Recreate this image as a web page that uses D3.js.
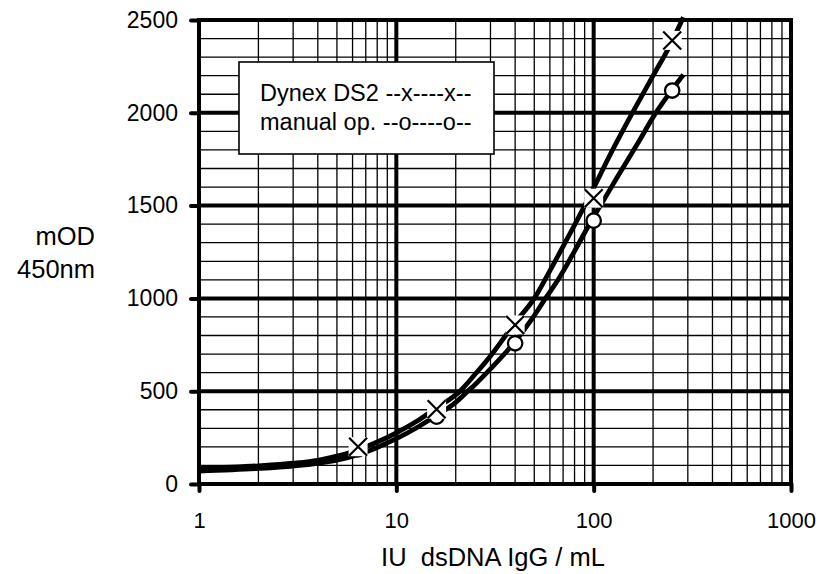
<!DOCTYPE html>
<html>
<head>
<meta charset="utf-8">
<script src="https://cdn.jsdelivr.net/npm/d3@7"></script>
<style>
  body { margin: 0; background: #fff; }
  svg text { font-family: "Liberation Sans", Arial, sans-serif; fill: #000; }
</style>
</head>
<body>
<div id="chart"></div>
<script>
// tick values
var xTicks = [1, 10, 100, 1000];
var yTicks = [0, 500, 1000, 1500, 2000, 2500];

// measured points
var dynexPts = [[6.4, 201], [16, 403], [40, 857], [100, 1540], [250, 2390]];
var manualPts = [[6.4, 187], [16, 363], [40, 758], [100, 1419], [250, 2120]];

// fitted curves
var dynexFit = [[1, 84], [2, 98], [3, 112], [4, 128], [5, 150], [6.5, 186], [8, 226], [10, 276],
    [13, 345], [16, 410], [21, 500], [25, 590], [30, 690], [40, 870], [50, 1000], [58, 1120],
    [70, 1280], [80, 1395], [90, 1500], [100, 1595], [120, 1765], [150, 1960], [200, 2200],
    [240, 2350], [285, 2515]];
var manualFit = [[1, 70], [2, 84], [3, 97], [4, 111], [5, 128], [6.5, 160], [8, 197], [10, 244],
    [13, 310], [16, 370], [20, 440], [23, 500], [25, 535], [30, 620], [40, 768], [48, 880],
    [57, 1000], [66, 1100], [80, 1255], [100, 1440], [110, 1513], [130, 1643], [165, 1825],
    [208, 2005], [250, 2125], [285, 2205]];

var legendLines = ["Dynex DS2 --x----x--", "manual op. --o----o--"];

var W = 819, H = 574;
var margin = { top: 20, right: 28, bottom: 90, left: 199 },
    width = W - margin.left - margin.right,
    height = H - margin.top - margin.bottom;

var svg = d3.select("#chart")
    .append("svg")
    .attr("width", W)
    .attr("height", H);

var g = svg.append("g")
    .attr("transform", "translate(" + margin.left + "," + margin.top + ")");

var x = d3.scaleLog()
    .domain([1, 1000])
    .range([0, width]);

var y = d3.scaleLinear()
    .domain([0, 2500])
    .range([height, 0]);

// minor grid
var minorX = [];
[1, 10, 100].forEach(function (d) {
    for (var k = 2; k <= 9; k++) minorX.push(d * k);
});
var minorY = d3.range(100, 2500, 100).filter(function (d) { return d % 500 !== 0; });

g.append("g").selectAll("line")
    .data(minorX)
    .enter()
    .append("line")
    .attr("x1", function (d) { return x(d); })
    .attr("x2", function (d) { return x(d); })
    .attr("y1", 0)
    .attr("y2", height)
    .attr("stroke", "#000")
    .attr("stroke-width", 1.3);

g.append("g").selectAll("line")
    .data(minorY)
    .enter()
    .append("line")
    .attr("x1", 0)
    .attr("x2", width)
    .attr("y1", function (d) { return y(d); })
    .attr("y2", function (d) { return y(d); })
    .attr("stroke", "#000")
    .attr("stroke-width", 1.3);

// major grid
g.append("g").selectAll("line")
    .data(xTicks)
    .enter()
    .append("line")
    .attr("x1", function (d) { return x(d); })
    .attr("x2", function (d) { return x(d); })
    .attr("y1", 0)
    .attr("y2", height)
    .attr("stroke", "#000")
    .attr("stroke-width", 4)
    .attr("stroke-linecap", "square");

g.append("g").selectAll("line")
    .data(yTicks)
    .enter()
    .append("line")
    .attr("x1", 0)
    .attr("x2", width)
    .attr("y1", function (d) { return y(d); })
    .attr("y2", function (d) { return y(d); })
    .attr("stroke", "#000")
    .attr("stroke-width", 4)
    .attr("stroke-linecap", "square");

// axes: thick stubs + labels
var yAxis = g.append("g")
    .call(d3.axisLeft(y).tickValues(yTicks).tickSize(8).tickPadding(13).tickFormat(d3.format("d")));
var xAxis = g.append("g")
    .attr("transform", "translate(0," + height + ")")
    .call(d3.axisBottom(x).tickValues(xTicks).tickSize(7).tickPadding(21).tickFormat(d3.format("d")));

[yAxis, xAxis].forEach(function (a) {
    a.select(".domain").remove();
    a.selectAll(".tick line")
        .attr("stroke", "#000")
        .attr("stroke-width", 4)
        .attr("stroke-linecap", "round");
    a.selectAll(".tick text")
        .style("font-family", "'Liberation Sans', Arial, sans-serif")
        .attr("fill", "#000");
});
yAxis.selectAll(".tick text").style("font-size", "23px");
xAxis.selectAll(".tick text").style("font-size", "22px");

// curves
var line = d3.line()
    .x(function (d) { return x(d[0]); })
    .y(function (d) { return y(d[1]); })
    .curve(d3.curveMonotoneX);

[dynexFit, manualFit].forEach(function (s) {
    g.append("path")
        .datum(s)
        .attr("d", line)
        .attr("fill", "none")
        .attr("stroke", "#000")
        .attr("stroke-width", 4.8)
        .attr("stroke-linejoin", "round");
});

// circles
g.append("g").selectAll("circle")
    .data(manualPts)
    .enter()
    .append("circle")
    .attr("cx", function (d) { return x(d[0]); })
    .attr("cy", function (d) { return y(d[1]); })
    .attr("r", 7.2)
    .attr("fill", "#fff")
    .attr("stroke", "#000")
    .attr("stroke-width", 2.3);

// crosses with white backing
var cross = g.append("g").selectAll("g")
    .data(dynexPts)
    .enter()
    .append("g")
    .attr("transform", function (d) {
        return "translate(" + x(d[0]) + "," + y(d[1]) + ")";
    });
cross.append("rect")
    .attr("x", -9.5).attr("y", -9.5)
    .attr("width", 19).attr("height", 19)
    .attr("fill", "#fff");
cross.append("path")
    .attr("d", "M-9,-9L9,9M-9,9L9,-9")
    .attr("stroke", "#000")
    .attr("stroke-width", 2.2)
    .attr("fill", "none");

// legend
var leg = svg.append("g");
leg.append("rect")
    .attr("x", 239).attr("y", 62)
    .attr("width", 255).attr("height", 92)
    .attr("fill", "#fff")
    .attr("stroke", "#000")
    .attr("stroke-width", 1.6);
leg.selectAll("text")
    .data(legendLines)
    .enter()
    .append("text")
    .attr("x", 260)
    .attr("y", function (d, i) { return 101 + i * 29; })
    .style("font-size", "23.5px")
    .text(function (d) { return d; });

// axis titles
svg.append("text")
    .attr("x", 95).attr("y", 245)
    .attr("text-anchor", "end")
    .style("font-size", "25.5px")
    .text("mOD");
svg.append("text")
    .attr("x", 95).attr("y", 278)
    .attr("text-anchor", "end")
    .style("font-size", "25.5px")
    .text("450nm");
svg.append("text")
    .attr("x", 493).attr("y", 566)
    .attr("text-anchor", "middle")
    .style("font-size", "25.5px")
    .style("white-space", "pre")
    .attr("xml:space", "preserve")
    .text("IU  dsDNA IgG / mL");
</script>
</body>
</html>
